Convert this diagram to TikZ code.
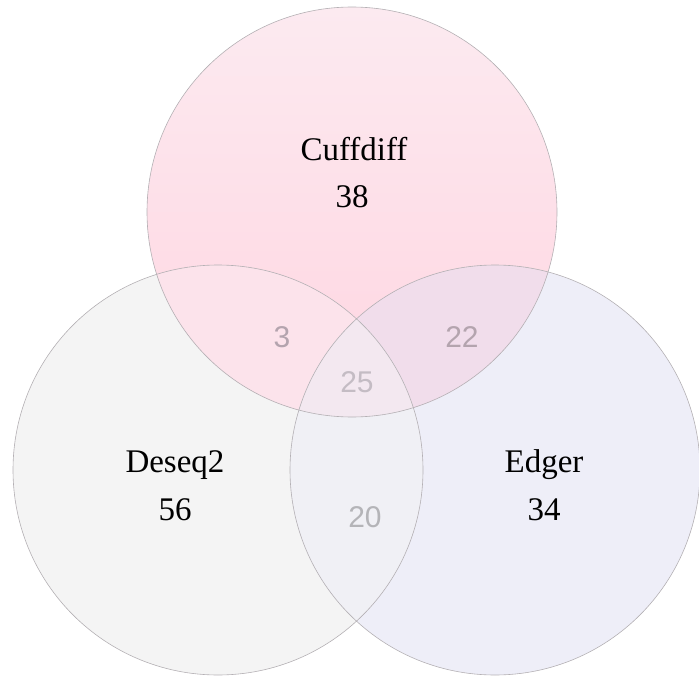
\documentclass[tikz,border=0pt]{standalone}
\usepackage{fontspec}
\setmainfont{Liberation Serif}
\newfontfamily\numfont{Liberation Sans}
\definecolor{leftfill}{HTML}{F4F4F4}
\definecolor{rightfill}{HTML}{EEEEF8}
\definecolor{toptop}{HTML}{FCEAF0}
\definecolor{topbot}{HTML}{FFD5E1}
\definecolor{regA}{HTML}{FCE3EB}
\definecolor{regB}{HTML}{F1DDEB}
\definecolor{regC}{HTML}{F0F0F5}
\definecolor{regD}{HTML}{F3E8F0}
\definecolor{edgegrey}{HTML}{B4B0B4}
\definecolor{numA}{HTML}{B4A4AE}
\definecolor{numB}{HTML}{C4BCC4}
\definecolor{numC}{HTML}{B4B4B8}
\begin{document}
\begin{tikzpicture}[x=1pt,y=-1pt,
  setlabel/.style={font=\fontsize{33}{38}\selectfont, text=black, inner sep=0pt, anchor=base},
  overlap/.style={font=\numfont\fontsize{30}{34}\selectfont, inner sep=0pt, anchor=base},
  rim/.style={draw=edgegrey, line width=0.6pt}]
\useasboundingbox (0,0) rectangle (699,677);
\coordinate (T) at (352,212);
\coordinate (L) at (218,470);
\coordinate (R) at (495,470);
\def\rr{205}
% base fills
\fill[leftfill] (L) circle (\rr);
\fill[rightfill] (R) circle (\rr);
\shade[top color=toptop, bottom color=topbot] (T) circle (\rr);
% pairwise overlaps
\begin{scope}
  \clip (L) circle (\rr);
  \fill[regA] (T) circle (\rr);
\end{scope}
\begin{scope}
  \clip (R) circle (\rr);
  \fill[regB] (T) circle (\rr);
\end{scope}
\begin{scope}
  \clip (L) circle (\rr);
  \fill[regC] (R) circle (\rr);
\end{scope}
\begin{scope}
  \clip (L) circle (\rr);
  \clip (R) circle (\rr);
  \fill[regD] (T) circle (\rr);
\end{scope}
% outlines
\draw[rim] (T) circle (\rr);
\draw[rim] (L) circle (\rr);
\draw[rim] (R) circle (\rr);
% labels
\node[setlabel] (cuff) at (354,160) {Cuffdiff};
\node[setlabel] (cuffn) at (352,207) {38};
\node[setlabel] (deseq) at (175,472) {Deseq2};
\node[setlabel] (deseqn) at (175,520) {56};
\node[setlabel] (edger) at (544,472) {Edger};
\node[setlabel] (edgern) at (544,520) {34};
% overlap counts
\node[overlap, text=numA] (n3) at (282,347) {3};
\node[overlap, text=numA] (n22) at (462,347) {22};
\node[overlap, text=numB] (n25) at (357,392) {25};
\node[overlap, text=numC] (n20) at (365,527) {20};
\end{tikzpicture}
\end{document}
